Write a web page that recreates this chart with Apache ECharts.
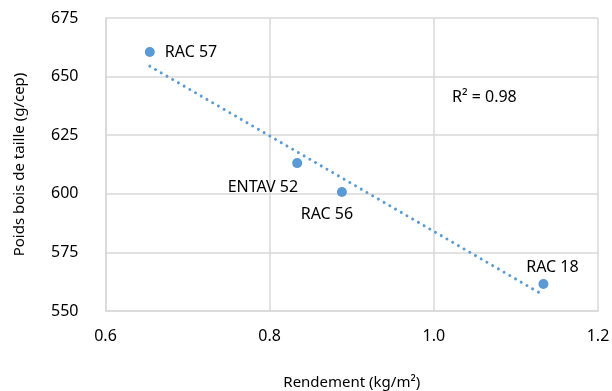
<!DOCTYPE html>
<html><head><meta charset="utf-8">
<script src="https://cdn.jsdelivr.net/npm/echarts@6/dist/echarts.min.js"></script>
<style>html,body{margin:0;padding:0;background:#fff}#c{width:612px;height:391px}</style>
</head><body><div id="c"></div>
<script>
var names = ['RAC 57', 'ENTAV 52', 'RAC 56', 'RAC 18'];
var rendement = [0.654, 0.8335, 0.888, 1.1335];
var poids = [660.5, 613.1, 600.8, 561.5];
var xTicks = [0.6, 0.8, 1.0, 1.2];
var yTicks = [550, 575, 600, 625, 650, 675];
var r2Text = 'R² = 0.98';

// label placement styles (not data)
var labelStyle = {
  'RAC 57': {position: 'right', offset: [5, 0]},
  'ENTAV 52': {position: 'left', offset: [11, 24]},
  'RAC 56': {position: 'bottom', offset: [-15, 5]},
  'RAC 18': {position: 'top', offset: [9, 1]}
};

// linear regression trendline
var n = rendement.length, mx = 0, my = 0;
for (var i = 0; i < n; i++) { mx += rendement[i]; my += poids[i]; }
mx /= n; my /= n;
var sxy = 0, sxx = 0;
for (var i = 0; i < n; i++) { sxy += (rendement[i]-mx)*(poids[i]-my); sxx += (rendement[i]-mx)*(rendement[i]-mx); }
var slope = sxy/sxx, icpt = my - slope*mx;
var xmin = Math.min.apply(null, rendement), xmax = Math.max.apply(null, rendement);
var trend = [[xmin, icpt + slope*xmin], [xmax, icpt + slope*xmax]];

var font = 'Noto Sans';
var txt = '#000';
var pts = rendement.map(function(x, i){
  var ls = labelStyle[names[i]];
  return {value: [x, poids[i]], name: names[i], label: {show: true, formatter: names[i], position: ls.position, offset: ls.offset}};
});

var chart = echarts.init(document.getElementById('c'));
chart.setOption({
  animation: false,
  textStyle: {fontFamily: font},
  grid: {left: 105.5, right: 14, top: 18, bottom: 80, containLabel: false, outerBoundsMode: 'none'},
  xAxis: {
    type: 'value', min: 0.6, max: 1.2, interval: 0.2,
    name: 'Rendement (kg/m²)', nameLocation: 'middle', nameGap: 64,
    nameTextStyle: {color: txt, fontSize: 15, fontFamily: font},
    axisLine: {show: true, lineStyle: {color: '#D9D9D9', width: 1.5}},
    axisTick: {show: false},
    axisLabel: {color: txt, fontSize: 16, margin: 17, formatter: function(v){return v.toFixed(1);}},
    splitLine: {show: true, lineStyle: {color: '#D9D9D9', width: 1.5}}
  },
  yAxis: {
    type: 'value', min: 550, max: 675, interval: 25,
    name: 'Poids bois de taille (g/cep)', nameLocation: 'middle', nameGap: 78, nameRotate: 90,
    nameTextStyle: {color: txt, fontSize: 15, fontFamily: font},
    axisLine: {show: true, lineStyle: {color: '#D9D9D9', width: 1.5}},
    axisTick: {show: false},
    axisLabel: {color: txt, fontSize: 16, margin: 27},
    splitLine: {show: true, lineStyle: {color: '#D9D9D9', width: 1.5}}
  },
  graphic: [{
    type: 'text', left: 452, top: 89,
    style: {text: r2Text, fill: txt, font: '16px "Noto Sans"'}
  }],
  series: [{
    type: 'line', data: trend, symbol: 'none', silent: true,
    lineStyle: {color: '#5B9BD5', width: 3, type: [0.01, 6.6], cap: 'round'},
    z: 2
  }, {
    type: 'scatter', data: pts, symbolSize: 10,
    itemStyle: {color: '#5B9BD5', opacity: 1},
    label: {color: txt, fontSize: 16, fontFamily: font},
    z: 3
  }]
});
</script></body></html>
